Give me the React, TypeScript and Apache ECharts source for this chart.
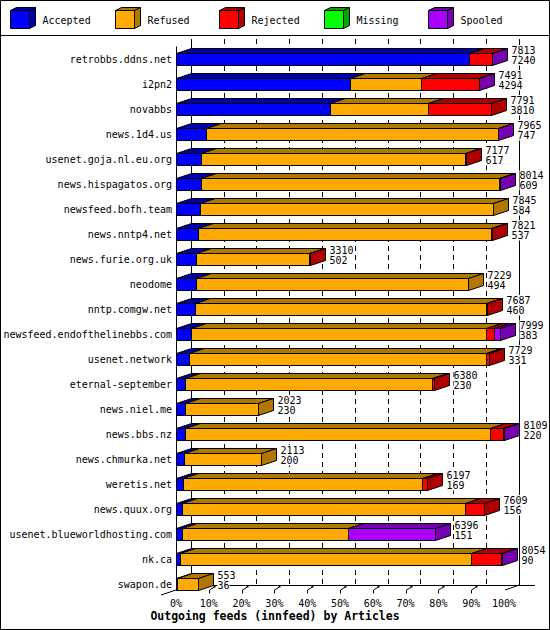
import React, { useEffect, useRef } from "react";
import * as echarts from "echarts";

const MONO = "DejaVu Sans Mono";

const categories = [
  "retrobbs.ddns.net",
  "i2pn2",
  "novabbs",
  "news.1d4.us",
  "usenet.goja.nl.eu.org",
  "news.hispagatos.org",
  "newsfeed.bofh.team",
  "news.nntp4.net",
  "news.furie.org.uk",
  "neodome",
  "nntp.comgw.net",
  "newsfeed.endofthelinebbs.com",
  "usenet.network",
  "eternal-september",
  "news.niel.me",
  "news.bbs.nz",
  "news.chmurka.net",
  "weretis.net",
  "news.quux.org",
  "usenet.blueworldhosting.com",
  "nk.ca",
  "swapon.de",
];
const totals = [7813, 7491, 7791, 7965, 7177, 8014, 7845, 7821, 3310, 7229, 7687, 7999, 7729, 6380, 2023, 8109, 2113, 6197, 7609, 6396, 8054, 553];
const accepted = [7240, 4294, 3810, 747, 617, 609, 584, 537, 502, 494, 460, 383, 331, 230, 230, 220, 200, 169, 156, 151, 90, 36];
const refused = [0, 1775, 2420, 7205, 6526, 7381, 7261, 7260, 2788, 6735, 7197, 7287, 7342, 6106, 1793, 7550, 1913, 5921, 6983, 4108, 7205, 517];
const rejected = [560, 1410, 1561, 0, 34, 0, 0, 24, 20, 0, 30, 181, 56, 44, 0, 325, 0, 107, 470, 0, 745, 0];
const missing = [0, 0, 0, 0, 0, 0, 0, 0, 0, 0, 0, 0, 0, 0, 0, 0, 0, 0, 0, 0, 0, 0];
const spooled = [13, 12, 0, 13, 0, 24, 0, 0, 0, 0, 0, 148, 0, 0, 0, 14, 0, 0, 0, 2137, 14, 0];

const seriesNames = ["Accepted", "Refused", "Rejected", "Missing", "Spooled"];
const frontColors = ["#0000ff", "#ffaa00", "#ff0000", "#00ff00", "#aa00ff"];
const sideColors = ["#0000a8", "#b07800", "#b00000", "#00a800", "#7700b0"];
const chartTitle = "Outgoing feeds (innfeed) by Articles";

// layout
const FRONT_LEFT = 176;
const PLOT_W = 328;
const BAND = 25;
const TOP = 46.5;
const DX = 15;
const DY = 5;
const BAR_H = 12;

const px = (v: number) => Math.round(v) + 0.5;

export default function App() {
  const ref = useRef<HTMLDivElement>(null);

  useEffect(() => {
    if (!ref.current) return;
    const chart = echarts.init(ref.current, null, { renderer: "svg" });
    const MAXV = Math.max(...totals);
    const n = categories.length;
    const plotH = n * BAND;
    const floorY = TOP + plotH - 6.5; // front floor ~590
    const backFloor = floorY - DY;

    const data = categories.map((c, i) => [
      i,
      accepted[i],
      refused[i],
      rejected[i],
      missing[i],
      spooled[i],
      totals[i],
    ]);

    const labelStyle = (text: string) => ({
      text,
      fill: "#000",
      font: `10px ${MONO}`,
      align: "left",
      verticalAlign: "middle",
      backgroundColor: "#fff",
      padding: [0, 0, 0, 0],
    });

    const renderItem = (params: any, api: any) => {
      const i = api.value(0);
      const vals = [1, 2, 3, 4, 5].map((k) => api.value(k));
      const yc = api.coord([0, i])[1];
      const yt = Math.round(yc - BAR_H / 2) + 0.5;
      const yb = yt + BAR_H;
      const fronts: any[] = [];
      const tops: any[] = [];
      let cum = 0;
      let lastX = px(api.coord([0, i])[0]);
      let lastK = -1;
      vals.forEach((v: number, k: number) => {
        if (!(v > 0)) return;
        const x0 = px(api.coord([cum, i])[0]);
        cum += v;
        const x1 = px(api.coord([cum, i])[0]);
        fronts.push({
          type: "rect",
          shape: { x: x0, y: yt, width: x1 - x0, height: BAR_H },
          style: { fill: frontColors[k], stroke: "#000", lineWidth: 1 },
        });
        tops.push({
          type: "polygon",
          shape: {
            points: [
              [x0, yt],
              [x0 + DX, yt - DY],
              [x1 + DX, yt - DY],
              [x1, yt],
            ],
          },
          style: { fill: sideColors[k], stroke: "#000", lineWidth: 1 },
        });
        lastX = x1;
        lastK = k;
      });
      const children: any[] = [...fronts, ...tops];
      if (lastK >= 0) {
        children.push({
          type: "polygon",
          shape: {
            points: [
              [lastX, yt],
              [lastX + DX, yt - DY],
              [lastX + DX, yb - DY],
              [lastX, yb],
            ],
          },
          style: { fill: sideColors[lastK], stroke: "#000", lineWidth: 1 },
        });
      }
      children.push({
        type: "text",
        x: lastX + DX + 4,
        y: yc - 9,
        style: labelStyle(String(api.value(6))),
      });
      children.push({
        type: "text",
        x: lastX + DX + 4,
        y: yc + 1.5,
        style: labelStyle(String(api.value(1))),
      });
      return { type: "group", children };
    };

    const lineStyle = { stroke: "#000", lineWidth: 1 };
    const graphics: any[] = [
      {
        type: "rect",
        silent: true,
        shape: { x: 0.5, y: 0.5, width: 549, height: 629 },
        style: { fill: "none", stroke: "#000", lineWidth: 1 },
      },
      {
        type: "line",
        silent: true,
        shape: { x1: 0, y1: 35.5, x2: 550, y2: 35.5 },
        style: lineStyle,
      },
      // front-left axis
      {
        type: "line",
        silent: true,
        shape: { x1: FRONT_LEFT + 0.5, y1: TOP, x2: FRONT_LEFT + 0.5, y2: floorY },
        style: lineStyle,
      },
      // back-left wall
      {
        type: "line",
        silent: true,
        shape: { x1: FRONT_LEFT + DX + 0.5, y1: TOP - 7.5, x2: FRONT_LEFT + DX + 0.5, y2: backFloor },
        style: lineStyle,
      },
      // back-right wall
      {
        type: "line",
        silent: true,
        shape: {
          x1: FRONT_LEFT + PLOT_W + DX + 0.5,
          y1: TOP - 7.5,
          x2: FRONT_LEFT + PLOT_W + DX + 0.5,
          y2: backFloor,
        },
        style: lineStyle,
      },
      // floor back line
      {
        type: "line",
        silent: true,
        shape: { x1: FRONT_LEFT + DX, y1: backFloor + 0.5, x2: FRONT_LEFT + PLOT_W + 2 * DX + 1, y2: backFloor + 0.5 },
        style: lineStyle,
      },
      // left depth diagonal
      {
        type: "line",
        silent: true,
        shape: { x1: FRONT_LEFT - DX, y1: floorY + DY, x2: FRONT_LEFT + DX, y2: backFloor },
        style: lineStyle,
      },
      // right depth diagonal
      {
        type: "line",
        silent: true,
        shape: { x1: FRONT_LEFT + PLOT_W + 1, y1: floorY, x2: FRONT_LEFT + PLOT_W + DX + 0.5, y2: backFloor },
        style: lineStyle,
      },
    ];
    for (let k = 1; k <= 9; k++) {
      const xf = Math.round(FRONT_LEFT + (PLOT_W * k) / 10) + 0.5;
      graphics.push({
        type: "polyline",
        silent: true,
        shape: {
          points: [
            [xf, floorY + 3.5],
            [xf, floorY],
            [xf + 5, floorY - 3],
          ],
        },
        style: { stroke: "#000", lineWidth: 1, fill: null },
      });
      graphics.push({
        type: "rect",
        silent: true,
        shape: { x: xf + 4, y: floorY - 4.5, width: 2, height: 2 },
        style: { fill: "#000" },
      });
    }
    // legend
    seriesNames.forEach((name, k) => {
      const x0 = Math.round(10 + k * 104.5) + 0.5;
      const y0 = 10.5;
      const w = 19;
      const h = 18;
      const d = 6;
      const dy = 3;
      graphics.push({
        type: "rect",
        silent: true,
        shape: { x: x0, y: y0, width: w, height: h },
        style: { fill: frontColors[k], stroke: "#000", lineWidth: 1 },
      });
      graphics.push({
        type: "polygon",
        silent: true,
        shape: {
          points: [
            [x0, y0],
            [x0 + d, y0 - dy],
            [x0 + w + d, y0 - dy],
            [x0 + w, y0],
          ],
        },
        style: { fill: sideColors[k], stroke: "#000", lineWidth: 1 },
      });
      graphics.push({
        type: "polygon",
        silent: true,
        shape: {
          points: [
            [x0 + w, y0],
            [x0 + w + d, y0 - dy],
            [x0 + w + d, y0 + h - dy],
            [x0 + w, y0 + h],
          ],
        },
        style: { fill: sideColors[k], stroke: "#000", lineWidth: 1 },
      });
      graphics.push({
        type: "text",
        silent: true,
        x: x0 + 32,
        y: 20,
        style: {
          text: name,
          fill: "#000",
          font: `10px ${MONO}`,
          align: "left",
          verticalAlign: "middle",
        },
      });
    });

    const option: any = {
      animation: false,
      backgroundColor: "#ffffff",
      textStyle: { fontFamily: MONO },
      title: {
        text: chartTitle,
        left: "center",
        top: 610,
        padding: 0,
        textStyle: { fontFamily: MONO, fontSize: 11.5, fontWeight: "bold", color: "#000" },
      },
      grid: [
        { left: FRONT_LEFT, top: TOP, width: PLOT_W, height: plotH, outerBoundsMode: "none" },
        { left: FRONT_LEFT + DX, top: TOP - 7.5, width: PLOT_W, height: backFloor - (TOP - 7.5), outerBoundsMode: "none" },
      ],
      xAxis: [
        {
          gridIndex: 0,
          type: "value",
          min: 0,
          max: MAXV,
          interval: MAXV / 10,
          axisLine: { show: false },
          axisTick: { show: false },
          splitLine: { show: false },
          axisLabel: {
            formatter: (v: number) => Math.round((v / MAXV) * 100) + "%",
            color: "#000",
            fontSize: 10,
            fontFamily: MONO,
            margin: 2,
          },
        },
        {
          gridIndex: 1,
          type: "value",
          min: 0,
          max: MAXV,
          interval: MAXV / 10,
          axisLine: { show: false },
          axisTick: { show: false },
          axisLabel: { show: false },
          splitLine: { show: true, lineStyle: { color: "#000", width: 1, type: [5, 4] } },
        },
      ],
      yAxis: [
        {
          gridIndex: 0,
          type: "category",
          data: categories,
          inverse: true,
          axisLine: { show: false },
          axisTick: { show: false },
          splitLine: { show: false },
          axisLabel: { color: "#000", fontSize: 10, fontFamily: MONO, margin: 4, interval: 0 },
        },
        {
          gridIndex: 1,
          type: "category",
          data: categories,
          inverse: true,
          show: false,
        },
      ],
      series: [
        {
          type: "custom",
          xAxisIndex: 0,
          yAxisIndex: 0,
          renderItem,
          data,
          encode: { x: 6, y: 0 },
          clip: false,
          z: 5,
        },
      ],
      graphic: { elements: graphics },
    };
    chart.setOption(option);
    return () => chart.dispose();
  }, []);

  return (
    <div
      ref={ref}
      style={{ position: "fixed", left: 0, top: 0, width: 550, height: 630, background: "#fff" }}
    />
  );
}
